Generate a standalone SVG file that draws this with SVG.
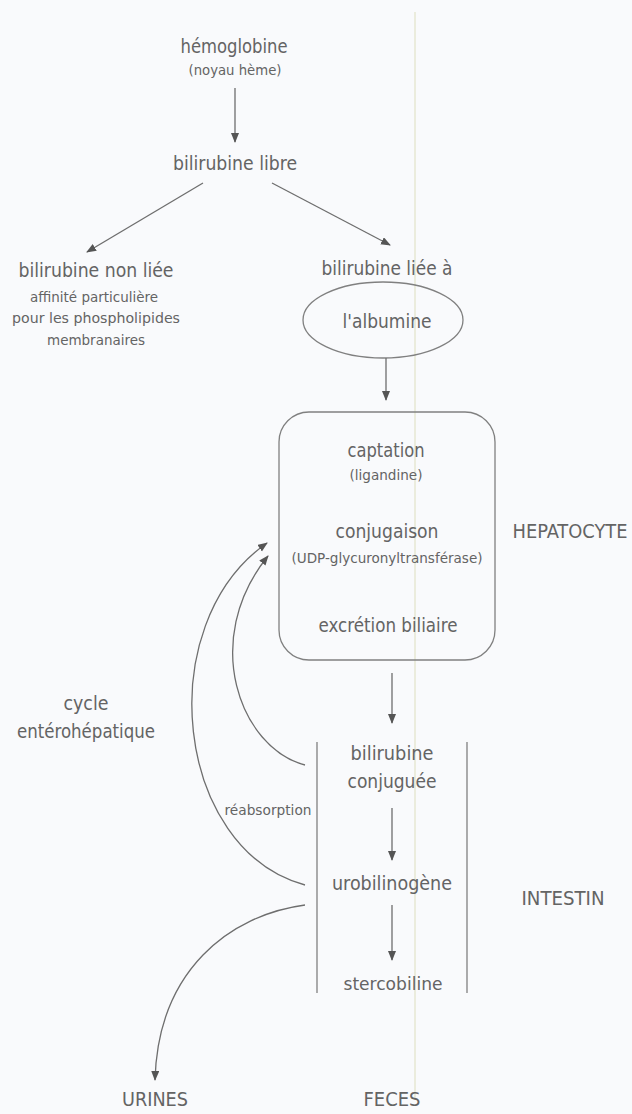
<svg xmlns="http://www.w3.org/2000/svg" width="632" height="1114" viewBox="0 0 632 1114">
  <defs>
    <marker id="head" markerUnits="userSpaceOnUse" markerWidth="10" markerHeight="10" refX="9" refY="4" orient="auto">
      <path d="M0,0 L10,4 L0,8 Z" fill="#555"/>
    </marker>
    <style>
      text { font-family: "Liberation Sans Narrow", "DejaVu Sans Condensed", "Liberation Sans", sans-serif; fill: #646464; text-anchor: middle; }
      .m { font-size: 20px; }
      .s { font-size: 14px; }
      .line { fill: none; stroke: #808080; stroke-width: 1.3; }
      .arr { fill: none; stroke: #6e6e6e; stroke-width: 1.3; marker-end: url(#head); }
    </style>
  </defs>

  <rect width="632" height="1114" fill="#f9fafc"/>

  <!-- faint vertical guide line -->
  <line x1="415" y1="12" x2="415" y2="1100" stroke="#e6e5d0" stroke-width="1.4"/>

  <g id="hemoglobine">
    <text class="m" x="234" y="53" textLength="107" lengthAdjust="spacingAndGlyphs">hémoglobine</text>
    <text class="s" x="235" y="75" textLength="93" lengthAdjust="spacingAndGlyphs">(noyau hème)</text>
  </g>

  <g id="bilirubine-libre">
    <text class="m" x="235" y="170" textLength="124" lengthAdjust="spacingAndGlyphs">bilirubine libre</text>
  </g>

  <g id="bilirubine-non-liee">
    <text class="m" x="96" y="277" textLength="155" lengthAdjust="spacingAndGlyphs">bilirubine non liée</text>
    <text class="s" x="94" y="302" textLength="128" lengthAdjust="spacingAndGlyphs">affinité particulière</text>
    <text class="s" x="96" y="323" textLength="168" lengthAdjust="spacingAndGlyphs">pour les phospholipides</text>
    <text class="s" x="96" y="345" textLength="98" lengthAdjust="spacingAndGlyphs">membranaires</text>
  </g>

  <g id="bilirubine-liee">
    <text class="m" x="387" y="275" textLength="131" lengthAdjust="spacingAndGlyphs">bilirubine liée à</text>
    <ellipse cx="383" cy="320" rx="80" ry="38" class="line"/>
    <text class="m" x="387" y="328" textLength="89" lengthAdjust="spacingAndGlyphs">l'albumine</text>
  </g>

  <g id="hepatocyte">
    <rect x="279" y="412" width="216" height="248" rx="30" ry="30" class="line"/>
    <text class="m" x="386" y="457" textLength="77" lengthAdjust="spacingAndGlyphs">captation</text>
    <text class="s" x="386" y="480" textLength="73" lengthAdjust="spacingAndGlyphs">(ligandine)</text>
    <text class="m" x="387" y="538" textLength="103" lengthAdjust="spacingAndGlyphs">conjugaison</text>
    <text class="s" x="387" y="563" textLength="191" lengthAdjust="spacingAndGlyphs">(UDP-glycuronyltransférase)</text>
    <text class="m" x="388" y="632" textLength="139" lengthAdjust="spacingAndGlyphs">excrétion biliaire</text>
    <text class="m" x="570" y="538" textLength="115" lengthAdjust="spacingAndGlyphs">HEPATOCYTE</text>
  </g>

  <g id="intestin">
    <line x1="317" y1="742" x2="317" y2="993" class="line"/>
    <line x1="467" y1="742" x2="467" y2="993" class="line"/>
    <text class="m" x="392" y="760" textLength="83" lengthAdjust="spacingAndGlyphs">bilirubine</text>
    <text class="m" x="392" y="788" textLength="89" lengthAdjust="spacingAndGlyphs">conjuguée</text>
    <text class="m" x="392" y="890" textLength="120" lengthAdjust="spacingAndGlyphs">urobilinogène</text>
    <text class="s" x="393" y="990" textLength="99" lengthAdjust="spacingAndGlyphs" style="font-size:17px">stercobiline</text>
    <text class="m" x="563" y="905" textLength="83" lengthAdjust="spacingAndGlyphs">INTESTIN</text>
  </g>

  <g id="cycle-enterohepatique">
    <text class="m" x="86" y="710" textLength="45" lengthAdjust="spacingAndGlyphs">cycle</text>
    <text class="m" x="86" y="738" textLength="138" lengthAdjust="spacingAndGlyphs">entérohépatique</text>
    <text class="s" x="268" y="815" textLength="87" lengthAdjust="spacingAndGlyphs">réabsorption</text>
  </g>

  <g id="sorties">
    <text class="m" x="155" y="1106" textLength="66" lengthAdjust="spacingAndGlyphs" style="font-size:19px">URINES</text>
    <text class="m" x="392" y="1106" textLength="57" lengthAdjust="spacingAndGlyphs" style="font-size:19px">FECES</text>
  </g>

  <g id="connectors">
    <line x1="235" y1="88" x2="235" y2="142" class="arr"/>
    <line x1="203" y1="183" x2="87" y2="252" class="arr"/>
    <line x1="272" y1="183" x2="390" y2="245" class="arr"/>
    <line x1="386" y1="358" x2="386" y2="400" class="arr"/>
    <line x1="392" y1="673" x2="392" y2="723" class="arr"/>
    <line x1="392" y1="808" x2="392" y2="860" class="arr"/>
    <line x1="392" y1="905" x2="392" y2="960" class="arr"/>
    <path d="M305,765 C240,748 200,640 268,556" class="arr"/>
    <path d="M305,885 C175,850 150,625 267,543" class="arr"/>
    <path d="M305,905 C230,915 158,970 155,1080" class="arr"/>
  </g>
</svg>
